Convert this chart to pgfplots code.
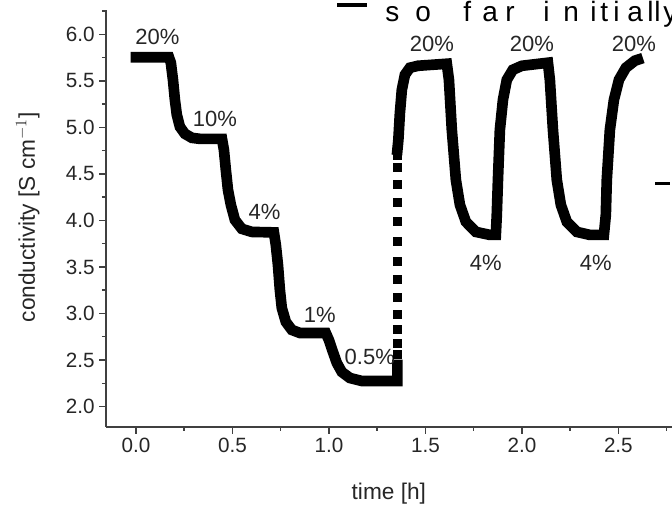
\documentclass[border=0pt]{standalone}
\usepackage{fontspec}
\setmainfont{Liberation Sans}
\usepackage{pgfplots}
\pgfplotsset{compat=1.18}
\begin{document}
\begin{tikzpicture}
\begin{axis}[
  at={(79.5pt,58.5pt)}, anchor=south west,
  scale only axis, width=427.7pt, height=312.7pt,
  xmin=-0.155, xmax=2.80, ymin=1.78, ymax=6.26,
  axis x line*=bottom, axis y line*=left,
  xtick={0,0.5,1.0,1.5,2.0,2.5},
  minor xtick={0.25,0.75,1.25,1.75,2.25,2.75},
  ytick={2.0,2.5,3.0,3.5,4.0,4.5,5.0,5.5,6.0},
  minor ytick={2.25,2.75,3.25,3.75,4.25,4.75,5.25,5.75,6.25},
  tick align=outside,
  major tick length=5pt, minor tick length=3pt,
  every tick/.style={black!75, line width=1.1pt},
  axis line style={black!75, line width=1.5pt},
  /pgf/number format/assume math mode=true,
  /pgf/number format/.cd, fixed, fixed zerofill, precision=1, /pgfplots/.cd,
  ticklabel style={font=\fontsize{15.5}{18}\selectfont, text=black!85},
  label style={font=\fontsize{17}{20}\selectfont, text=black!85},
  xlabel={time [h]},
  ylabel={conductivity [S cm$^{-1}$]},
  xlabel style={at={(axis description cs:0.496,-0.16)}, anchor=center},
  ylabel style={at={(axis description cs:-0.137,0.503)}, anchor=center},
  clip=false,
]
\addplot[black, line width=8pt, line cap=rect, line join=miter, miter limit=2] coordinates {
(0,5.753) (0.171,5.753) (0.181,5.694) (0.192,5.511) (0.202,5.296) (0.212,5.134)
(0.228,5.005) (0.254,4.930) (0.290,4.887) (0.332,4.876) (0.446,4.876)
(0.456,4.758) (0.466,4.543) (0.477,4.328) (0.492,4.167) (0.513,4.005)
(0.549,3.909) (0.601,3.876) (0.715,3.871)
(0.725,3.737) (0.736,3.522) (0.746,3.253) (0.756,3.059) (0.777,2.909)
(0.808,2.823) (0.850,2.790) (0.984,2.790)
(1.000,2.715) (1.021,2.586) (1.041,2.468) (1.067,2.371) (1.109,2.306)
(1.171,2.274) (1.355,2.274) (1.355,2.446)
};
\addplot[only marks, mark=square*, mark size=3pt, black] coordinates {
(1.355,2.565) (1.355,2.683) (1.355,2.833) (1.355,2.995) (1.355,3.177)
(1.355,3.371) (1.355,3.565) (1.355,3.780) (1.355,3.995) (1.355,4.199)
(1.355,4.392) (1.355,4.575) (1.355,4.704)
};
\addplot[black, line width=8pt, line cap=rect, line join=miter, miter limit=2] coordinates {
(1.355,4.758) (1.360,4.866) (1.368,5.156) (1.378,5.403) (1.394,5.565)
(1.420,5.640) (1.461,5.661) (1.611,5.683)
(1.622,5.511) (1.637,4.973) (1.658,4.435) (1.679,4.167) (1.710,3.984)
(1.762,3.876) (1.834,3.844) (1.865,3.844)
(1.870,4.059) (1.876,4.435) (1.886,4.973) (1.902,5.296) (1.922,5.511)
(1.953,5.618) (2.000,5.661) (2.135,5.694)
(2.145,5.511) (2.161,4.973) (2.181,4.435) (2.202,4.167) (2.233,3.984)
(2.285,3.876) (2.352,3.844) (2.425,3.844)
(2.435,4.059) (2.440,4.435) (2.456,4.973) (2.477,5.296) (2.503,5.511)
(2.539,5.640) (2.585,5.715) (2.601,5.726)
};
\begin{scope}[every node/.style={font=\fontsize{16.5}{19}\selectfont, text=black!85, inner sep=0pt}]
\node at (axis cs:0.111,5.968) {20\%};
\node at (axis cs:0.409,5.086) {10\%};
\node at (axis cs:0.666,4.095) {4\%};
\node at (axis cs:0.953,2.979) {1\%};
\node at (axis cs:1.212,2.538) {0.5\%};
\node at (axis cs:1.534,5.892) {20\%};
\node at (axis cs:2.052,5.892) {20\%};
\node at (axis cs:2.580,5.892) {20\%};
\node at (axis cs:1.813,3.543) {4\%};
\node at (axis cs:2.383,3.543) {4\%};
\end{scope}
\end{axis}
% overlay text fragment at the top edge (px -> pt: x*0.75, (505-y)*0.75)
\draw[black, line width=3pt] (252.75pt,375pt) -- (275.25pt,375pt);
\draw[black, line width=2.6pt] (491.25pt,241.1pt) -- (502.5pt,241.1pt);
\begin{scope}[every node/.style={font=\fontsize{21}{25}\selectfont, anchor=base west, inner sep=0pt}]
\node at (288.75pt,362.25pt) {s};
\node at (311.25pt,362.25pt) {o};
\node at (347.25pt,362.25pt) {f};
\node at (361.5pt,362.25pt) {a};
\node at (378.75pt,362.25pt) {r};
\node at (407.25pt,362.25pt) {i};
\node at (422.25pt,362.25pt) {n};
\node at (442.5pt,362.25pt) {i};
\node at (450pt,362.25pt) {t};
\node at (459.75pt,362.25pt) {i};
\node at (470.25pt,362.25pt) {a};
\node at (485.25pt,362.25pt) {l};
\node at (490.5pt,362.25pt) {l};
\node at (497.25pt,362.25pt) {y};
\end{scope}
\pgfresetboundingbox
\path[use as bounding box] (0pt,0pt) rectangle (504pt,378.75pt);
\end{tikzpicture}
\end{document}
